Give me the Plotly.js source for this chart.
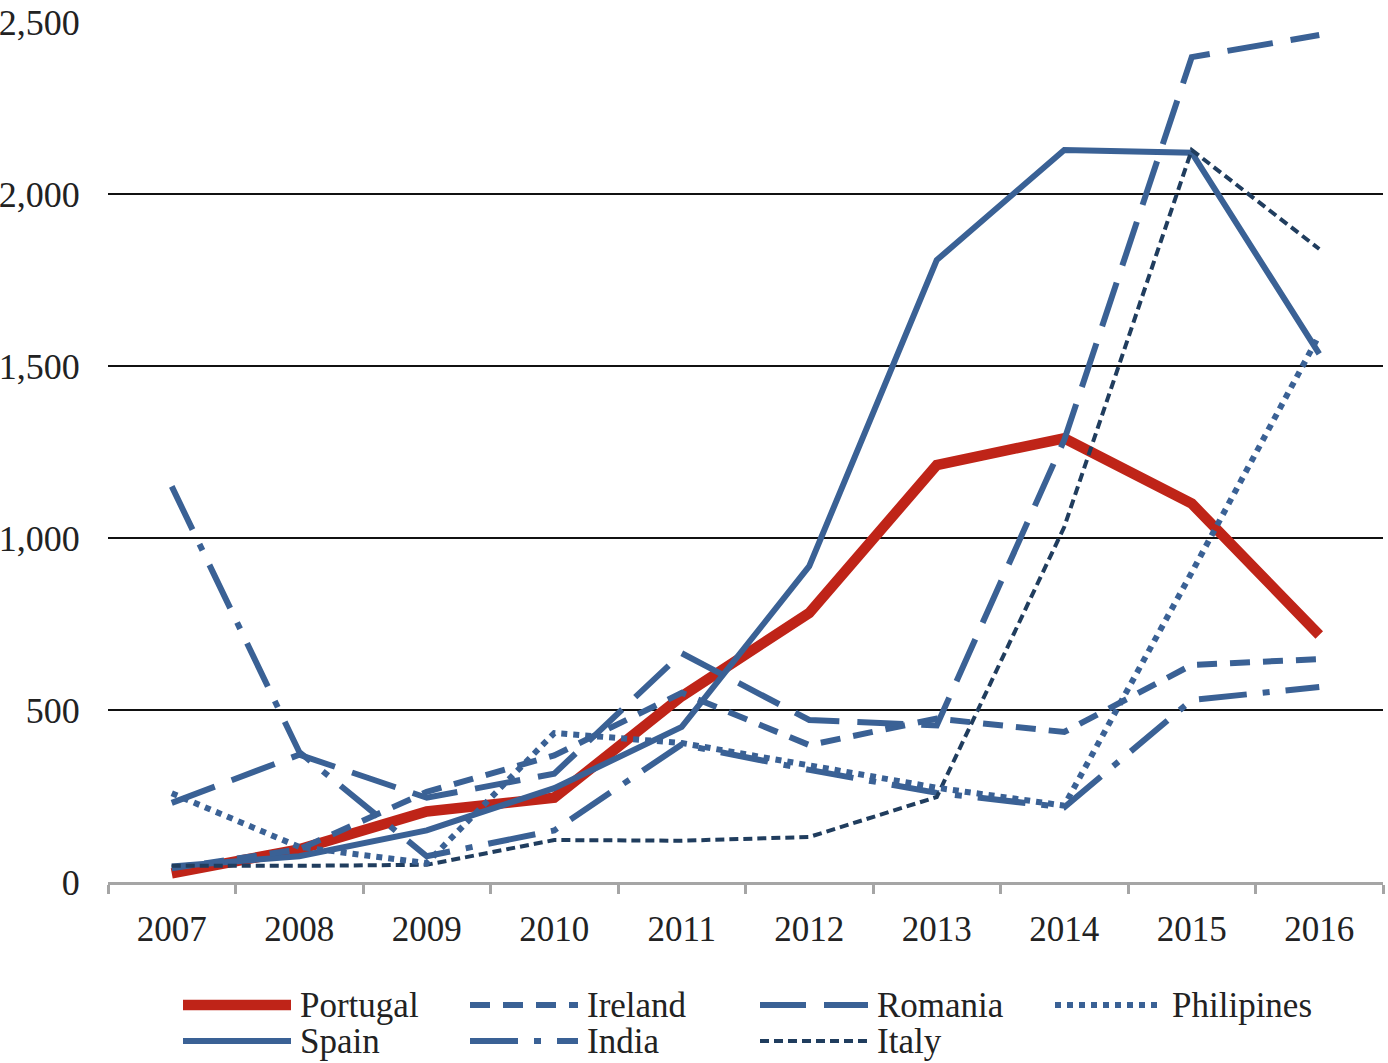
<!DOCTYPE html>
<html>
<head>
<meta charset="utf-8">
<script src="https://cdn.plot.ly/plotly-3.0.1.min.js"></script>
<style>html,body{margin:0;padding:0;background:#fff;}#chart{width:1388px;height:1063px;}</style>
</head>
<body>
<div id="chart"></div>
<script>
// ---- data ----
var years = ['2007','2008','2009','2010','2011','2012','2013','2014','2015','2016'];
var portugal    = [25, 95, 205, 245, 540, 782, 1212, 1290, 1100, 718];
var spain       = [45, 75, 150, 273, 451, 918, 1808, 2128, 2120, 1535];
var ireland     = [40, 95, 262, 368, 550, 398, 475, 436, 631, 648];
var romania     = [230, 370, 245, 315, 665, 471, 455, 1285, 2398, 2462];
var philippines = [258, 102, 55, 433, 404, 338, 274, 222, 900, 1590];
var india       = [1150, 378, 75, 150, 400, 326, 259, 217, 529, 567];
var italy       = [47, 47, 50, 122, 120, 131, 247, 1032, 2128, 1840];
var yTickVals   = [0, 500, 1000, 1500, 2000, 2500];
var yTickText   = ['0', '500', '1,000', '1,500', '2,000', '2,500'];

// ---- styles ----
var BLUE = '#3A6195', RED = '#BF2418', NAVY = '#203D5E';
var series = [
  {name:'Portugal',  y:portugal,    color:RED,  width:10.5, dash:'solid'},
  {name:'Spain',     y:spain,       color:BLUE, width:6,    dash:'solid'},
  {name:'Ireland',   y:ireland,     color:BLUE, width:6,    dash:'20px,13px'},
  {name:'India',     y:india,       color:BLUE, width:6,    dash:'48px,16px,7px,16px'},
  {name:'Romania',   y:romania,     color:BLUE, width:6,    dash:'46px,18px'},
  {name:'Italy',     y:italy,       color:NAVY, width:4,    dash:'9px,5px'},
  {name:'Philipines',y:philippines, color:BLUE, width:6,    dash:'6px,6px'}
];

var traces = series.map(function(s){
  return {x: years, y: s.y, type:'scatter', mode:'lines', name:s.name,
          line:{color:s.color, width:s.width, dash:s.dash}, showlegend:false, hoverinfo:'skip'};
});

// ---- custom legend (positions in pixels converted to paper coords) ----
var L = 108, R = 1383, T = 22, B = 882;
function px(x){ return (x - L) / (R - L); }
function py(y){ return (B - y) / (B - T); }
var legendOrder = ['Portugal','Ireland','Romania','Philipines','Spain','India','Italy'];
var colStarts = [183, 470, 760, 1055];
var rowY = [1005, 1041];
var shapes = [], annotations = [];
legendOrder.forEach(function(nm, i){
  var s = series.filter(function(d){return d.name === nm;})[0];
  var col = i % 4, row = Math.floor(i / 4);
  var x0 = colStarts[col], x1 = x0 + 108, yy = rowY[row];
  shapes.push({type:'line', xref:'paper', yref:'paper', x0:px(x0), x1:px(x1), y0:py(yy), y1:py(yy),
               line:{color:s.color, width:s.width, dash:s.dash}});
  annotations.push({xref:'paper', yref:'paper', x:px(x1 + 7), y:py(yy), xanchor:'left', yanchor:'middle',
                    text:nm, showarrow:false, font:{family:'Liberation Serif', size:35, color:'#222'}});
});

var layout = {
  width:1388, height:1063,
  margin:{l:L, r:1388 - R, t:T, b:1063 - B},
  paper_bgcolor:'#fff', plot_bgcolor:'#fff',
  showlegend:false,
  font:{family:'Liberation Serif', size:35, color:'#222'},
  xaxis:{type:'category', range:[-0.5, 9.5], showgrid:false, zeroline:false,
         showline:true, linecolor:'#A5A5A5', linewidth:3,
         ticks:'outside', tickson:'boundaries', ticklen:9, tickwidth:3, tickcolor:'#A5A5A5',
         ticklabelstandoff:14,
         tickfont:{family:'Liberation Serif', size:35, color:'#222'}},
  yaxis:{range:[0, 2500], tickvals:yTickVals, ticktext:yTickText,
         showgrid:true, gridcolor:'#111', gridwidth:1.3, zeroline:false, showline:false,
         ticks:'outside', ticklen:20, tickcolor:'rgba(0,0,0,0)',
         tickfont:{family:'Liberation Serif', size:36, color:'#222'}},
  shapes:shapes, annotations:annotations
};

Plotly.newPlot('chart', traces, layout, {staticPlot:true, displayModeBar:false});
</script>
</body>
</html>
